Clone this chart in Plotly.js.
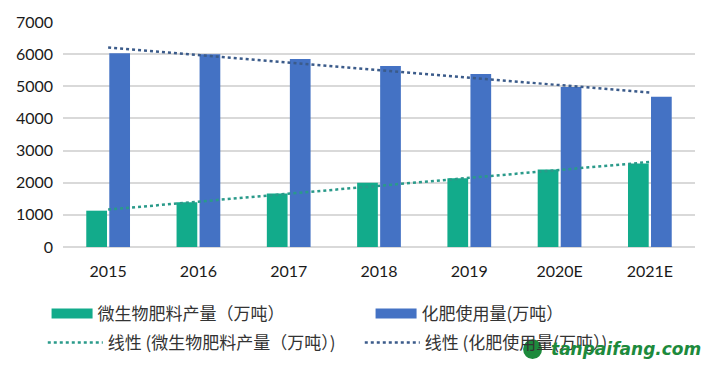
<!DOCTYPE html>
<html>
<head>
<meta charset="utf-8">
<script src="https://cdn.plot.ly/plotly-3.0.1.min.js"></script>
<style>html,body{margin:0;padding:0;background:#fff;}#chart{width:718px;height:371px;}</style>
</head>
<body>
<div id="chart"></div>
<script>
const categories = ['2015', '2016', '2017', '2018', '2019', '2020E', '2021E'];
const microbialFertilizer = [1130, 1390, 1668, 1996, 2141, 2410, 2595];
const chemicalFertilizer = [6024, 5993, 5848, 5632, 5385, 4974, 4674];
const yTicks = [0, 1000, 2000, 3000, 4000, 5000, 6000, 7000];

const nameGreen = '微生物肥料产量（万吨）';
const nameBlue = '化肥使用量(万吨）';
const nameGreenTrend = '线性 (微生物肥料产量（万吨）)';
const nameBlueTrend = '线性 (化肥使用量(万吨）)';
const watermark = 'tanpaifang.com';

function linearFit(vals) {
  const n = vals.length;
  const xs = vals.map((_, i) => i);
  const mx = xs.reduce((a, b) => a + b, 0) / n;
  const my = vals.reduce((a, b) => a + b, 0) / n;
  let sxy = 0, sxx = 0;
  for (let i = 0; i < n; i++) { sxy += (xs[i] - mx) * (vals[i] - my); sxx += (xs[i] - mx) ** 2; }
  const k = sxy / sxx, b = my - k * mx;
  return xs.map(x => k * x + b);
}

const GREEN = '#12ab8b', BLUE = '#4472c4';
const GREEN_T = '#2a9a8a', BLUE_T = '#3b5b8a';

const traces = [
  {type: 'bar', x: categories, y: microbialFertilizer, marker: {color: GREEN}, showlegend: false, hoverinfo: 'skip'},
  {type: 'bar', x: categories, y: chemicalFertilizer, marker: {color: BLUE}, showlegend: false, hoverinfo: 'skip'},
  {type: 'scatter', mode: 'lines', x: categories, y: linearFit(microbialFertilizer), line: {color: GREEN_T, width: 2.5, dash: 'dot'}, showlegend: false},
  {type: 'scatter', mode: 'lines', x: categories, y: linearFit(chemicalFertilizer), line: {color: BLUE_T, width: 2.5, dash: 'dot'}, showlegend: false},
  // legend entries
  {type: 'scatter', mode: 'lines', x: [null], y: [null], name: nameGreen, line: {color: GREEN, width: 11}, legend: 'legend'},
  {type: 'scatter', mode: 'lines', x: [null], y: [null], name: nameBlue, line: {color: BLUE, width: 11}, legend: 'legend'},
  {type: 'scatter', mode: 'lines', x: [null], y: [null], name: nameGreenTrend, line: {color: GREEN_T, width: 2.5, dash: 'dot'}, legend: 'legend2'},
  {type: 'scatter', mode: 'lines', x: [null], y: [null], name: nameBlueTrend, line: {color: BLUE_T, width: 2.5, dash: 'dot'}, legend: 'legend2'}
];

const legFont = {family: '"Noto Sans CJK SC", sans-serif', size: 17, color: '#333'};

const layout = {
  width: 718, height: 371,
  margin: {l: 63, r: 23, t: 22, b: 123},
  paper_bgcolor: '#fff', plot_bgcolor: '#fff',
  barmode: 'group', bargap: 0.49, bargroupgap: 0.1,
  font: {family: 'Lato, "Noto Sans", sans-serif', size: 16, color: '#1a1a1a'},
  xaxis: {
    type: 'category', range: [-0.5, 6.5], showgrid: false, zeroline: false,
    showline: false, ticks: '', ticklabelstandoff: 13, fixedrange: true
  },
  yaxis: {
    range: [0, 7000], tickvals: yTicks, ticktext: yTicks.map(String),
    showgrid: true, gridcolor: '#d9d9d9', gridwidth: 2,
    zeroline: true, zerolinecolor: '#d9d9d9', zerolinewidth: 2,
    showline: false, ticks: '', ticklabelstandoff: 9, fixedrange: true
  },
  showlegend: true,
  legend: {
    orientation: 'h', x: -0.026, xanchor: 'left', y: -0.292, yanchor: 'middle',
    font: legFont, itemwidth: 41, entrywidth: 268, entrywidthmode: 'pixels',
    bgcolor: 'rgba(0,0,0,0)', itemclick: false, itemdoubleclick: false
  },
  legend2: {
    orientation: 'h', x: -0.032, xanchor: 'left', y: -0.42, yanchor: 'middle',
    font: legFont, itemwidth: 55, entrywidth: 247, entrywidthmode: 'pixels',
    bgcolor: 'rgba(0,0,0,0)', itemclick: false, itemdoubleclick: false
  },
  shapes: [
    {type: 'circle', xref: 'paper', yref: 'paper', x0: 0.728, x1: 0.758, y0: -0.498, y1: -0.41,
     fillcolor: '#1d8a3c', line: {width: 0}, layer: 'above'}
  ],
  annotations: [
    {xref: 'paper', yref: 'paper', x: 1.013, y: -0.452, xanchor: 'right', yanchor: 'middle',
     text: '<b><i>' + watermark + '</i></b>', showarrow: false,
     font: {family: '"DejaVu Sans", sans-serif', size: 17, color: '#1d8a3c'}}
  ]
};

Plotly.newPlot('chart', traces, layout, {displayModeBar: false, staticPlot: true});
</script>
</body>
</html>
